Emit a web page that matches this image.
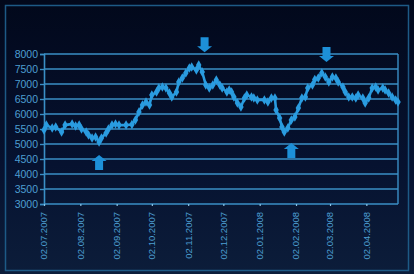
<!DOCTYPE html>
<html>
<head>
<meta charset="utf-8">
<script src="https://cdn.jsdelivr.net/npm/d3@7"></script>
<style>
  html, body { margin: 0; padding: 0; background: #040b1f; overflow: hidden; }
  svg { display: block; }
</style>
</head>
<body>
<script>
const width = 414,
  height = 274;
const margin = { top: 54, right: 16, bottom: 70, left: 44 };
const innerWidth = width - margin.left - margin.right;
const innerHeight = height - margin.top - margin.bottom;

// series
const dates = [
  "2007-07-02", "2007-07-04", "2007-07-09", "2007-07-12", "2007-07-17", "2007-07-20",
  "2007-07-26", "2007-07-29", "2007-08-01", "2007-08-03", "2007-08-07", "2007-08-09",
  "2007-08-12", "2007-08-15", "2007-08-18", "2007-08-20", "2007-08-24", "2007-08-26",
  "2007-08-29", "2007-09-01", "2007-09-04", "2007-09-10", "2007-09-15", "2007-09-18",
  "2007-09-21", "2007-09-24", "2007-09-27", "2007-09-30", "2007-10-02", "2007-10-06",
  "2007-10-08", "2007-10-11", "2007-10-14", "2007-10-17", "2007-10-19", "2007-10-23",
  "2007-10-25", "2007-10-28", "2007-10-31", "2007-11-03", "2007-11-05", "2007-11-09",
  "2007-11-11", "2007-11-14", "2007-11-17", "2007-11-20", "2007-11-23", "2007-11-26",
  "2007-11-29", "2007-12-01", "2007-12-05", "2007-12-07", "2007-12-09", "2007-12-11",
  "2007-12-14", "2007-12-17", "2007-12-20", "2007-12-22", "2007-12-26", "2007-12-28",
  "2007-12-31", "2008-01-06", "2008-01-09", "2008-01-12", "2008-01-15", "2008-01-16",
  "2008-01-19", "2008-01-21", "2008-01-23", "2008-01-26", "2008-01-29", "2008-02-01",
  "2008-02-04", "2008-02-07", "2008-02-10", "2008-02-12", "2008-02-16", "2008-02-18",
  "2008-02-21", "2008-02-24", "2008-02-27", "2008-03-01", "2008-03-04", "2008-03-07",
  "2008-03-09", "2008-03-13", "2008-03-15", "2008-03-18", "2008-03-21", "2008-03-24",
  "2008-03-26", "2008-03-30", "2008-04-01", "2008-04-04", "2008-04-07", "2008-04-10",
  "2008-04-12", "2008-04-16", "2008-04-18", "2008-04-21", "2008-04-24", "2008-04-27",
  "2008-04-29"
];
const values = [
  5470, 5630, 5530, 5570, 5400, 5630,
  5670, 5600, 5630, 5500, 5400, 5300,
  5200, 5230, 5070, 5200, 5370, 5500,
  5630, 5670, 5630, 5630, 5650, 5800,
  6070, 6300, 6400, 6300, 6630, 6730,
  6870, 6900, 6870, 6700, 6570, 6730,
  7070, 7200, 7370, 7530, 7570, 7470,
  7630, 7400, 6970, 6870, 6970, 7130,
  6970, 6870, 6730, 6800, 6730, 6570,
  6370, 6230, 6530, 6630, 6570, 6530,
  6470, 6470, 6400, 6530, 6530, 6130,
  5870, 5570, 5400, 5530, 5800, 5900,
  6200, 6530, 6570, 6870, 6970, 7150,
  7200, 7370, 7230, 7070, 7230, 7200,
  7070, 6900, 6730, 6570, 6570, 6530,
  6630, 6530, 6370, 6530, 6870, 6900,
  6800, 6870, 6800, 6700, 6570, 6470,
  6400
];
const xTicks = [
  "2007-07-02", "2007-08-02", "2007-09-02", "2007-10-02", "2007-11-02",
  "2007-12-02", "2008-01-02", "2008-02-02", "2008-03-02", "2008-04-02"
];
const yTicks = [3000, 3500, 4000, 4500, 5000, 5500, 6000, 6500, 7000, 7500, 8000];

// arrow annotations: date, value at the tip, direction
const arrowDates = ["2007-11-16", "2007-08-18", "2008-01-29", "2008-02-28"];
const arrowValues = [8060, 4630, 5030, 7730];
const arrowDirs = ["down", "up", "up", "down"];

const parseDate = d3.timeParse("%Y-%m-%d");
const formatTick = d3.timeFormat("%d.%m.%Y");

const data = dates.map((d, i) => ({ date: parseDate(d), value: values[i] }));

const xScale = d3
  .scaleTime()
  .domain([parseDate("2007-07-02"), parseDate("2008-04-29")])
  .range([0, innerWidth]);

const yScale = d3
  .scaleLinear()
  .domain([3000, 8000])
  .range([innerHeight, 0]);

const svg = d3
  .select("body")
  .append("svg")
  .attr("width", width)
  .attr("height", height);

const defs = svg.append("defs");
const grad = defs
  .append("linearGradient")
  .attr("id", "bg")
  .attr("x1", 0).attr("y1", 0)
  .attr("x2", 0).attr("y2", 1);
grad.append("stop").attr("offset", "0%").attr("stop-color", "#02081b");
grad.append("stop").attr("offset", "60%").attr("stop-color", "#061230");
grad.append("stop").attr("offset", "100%").attr("stop-color", "#0c1d3a");

svg.append("rect")
  .attr("width", width)
  .attr("height", height)
  .attr("fill", "url(#bg)");

// outer frame
svg.append("rect")
  .attr("x", 5.5)
  .attr("y", 5.5)
  .attr("width", 403)
  .attr("height", 265)
  .attr("fill", "none")
  .attr("stroke", "#1d5a86")
  .attr("stroke-width", 1.5);

const mainG = svg
  .append("g")
  .attr("transform", `translate(${margin.left},${margin.top})`);

const lineColor = "#3a8fc6";
const labelColor = "#4d9fd2";

// grid lines
mainG
  .append("g")
  .selectAll("line")
  .data(yTicks)
  .enter()
  .append("line")
  .attr("x1", 0)
  .attr("x2", innerWidth)
  .attr("y1", d => yScale(d))
  .attr("y2", d => yScale(d))
  .attr("stroke", lineColor)
  .attr("stroke-width", 1.6);

// right border of plot
mainG
  .append("line")
  .attr("x1", innerWidth)
  .attr("x2", innerWidth)
  .attr("y1", 0)
  .attr("y2", innerHeight)
  .attr("stroke", lineColor)
  .attr("stroke-width", 1.4);

// y axis
const yAxis = d3
  .axisLeft(yScale)
  .tickValues(yTicks)
  .tickFormat(d3.format("d"))
  .tickSize(4)
  .tickPadding(2);
const yG = mainG.append("g").attr("id", "y-axis").call(yAxis);
yG.select(".domain").attr("stroke", lineColor).attr("stroke-width", 1.6);
yG.selectAll(".tick line").attr("stroke", lineColor).attr("stroke-width", 1.4);
yG.selectAll("text")
  .attr("fill", labelColor)
  .style("font-family", "Liberation Sans, Arial, sans-serif")
  .style("font-size", "10.5px");

// x axis: ticks from the axis, labels rotated in their own groups
const xAxis = d3
  .axisBottom(xScale)
  .tickValues(xTicks.map(parseDate))
  .tickFormat("")
  .tickSize(2);
const xG = mainG
  .append("g")
  .attr("id", "x-axis")
  .attr("transform", `translate(0,${innerHeight})`)
  .call(xAxis);
xG.select(".domain").remove();
xG.selectAll(".tick line").attr("stroke", "#8cc4e6").attr("stroke-width", 1.2);

mainG
  .append("g")
  .selectAll("g")
  .data(xTicks.map(parseDate))
  .enter()
  .append("g")
  .attr("transform", d => `translate(${xScale(d)},${innerHeight + 8}) rotate(-90)`)
  .append("text")
  .attr("text-anchor", "end")
  .attr("dy", "0.35em")
  .attr("fill", labelColor)
  .style("font-family", "Liberation Sans, Arial, sans-serif")
  .style("font-size", "9.5px")
  .text(d => formatTick(d));

// the series
const line = d3
  .line()
  .x(d => xScale(d.date))
  .y(d => yScale(d.value));

const seriesColor = "#2a9ce0";

mainG
  .append("path")
  .datum(data)
  .attr("d", line)
  .attr("fill", "none")
  .attr("stroke", seriesColor)
  .attr("stroke-width", 2.6)
  .attr("stroke-linejoin", "round");

mainG
  .append("g")
  .selectAll("path")
  .data(data)
  .enter()
  .append("path")
  .attr("d", d3.symbol().type(d3.symbolDiamond).size(26))
  .attr("transform", d => `translate(${xScale(d.date)},${yScale(d.value)})`)
  .attr("fill", seriesColor);

// block arrows
const arrowShape = "M-4,0 L4,0 L4,9 L7.5,9 L0,15 L-7.5,9 L-4,9 Z"; // points down, tip at +15
mainG
  .append("g")
  .selectAll("path")
  .data(arrowDates.map((d, i) => ({ date: parseDate(d), value: arrowValues[i], dir: arrowDirs[i] })))
  .enter()
  .append("path")
  .attr("d", arrowShape)
  .attr("fill", "#1d90d8")
  .attr("transform", d => {
    const x = xScale(d.date), y = yScale(d.value);
    return d.dir === "down"
      ? `translate(${x},${y - 15})`
      : `translate(${x},${y + 15}) scale(1,-1)`;
  });
</script>
</body>
</html>
